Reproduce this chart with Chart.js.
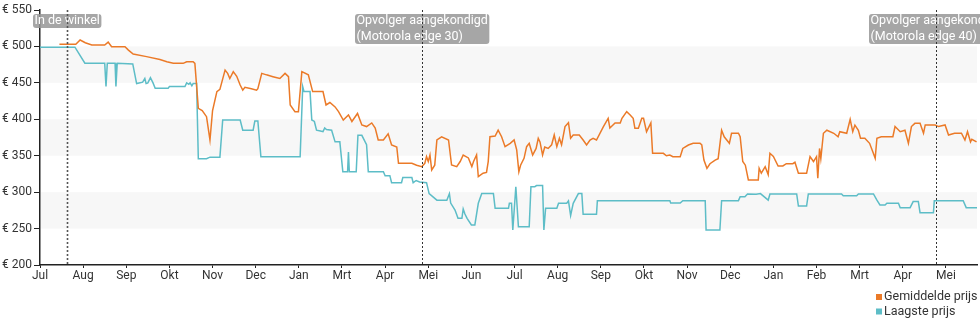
<!DOCTYPE html>
<html>
<head>
<meta charset="utf-8">
<script src="https://cdn.jsdelivr.net/npm/chart.js@4.4.1/dist/chart.umd.min.js"></script>
<style>
  html, body { margin: 0; padding: 0; background: #fff; }
  #wrap { width: 980px; height: 325px; position: relative; }
</style>
</head>
<body>
<div id="wrap"><canvas id="prijs"></canvas></div>
<script>
// x = months since start (0 = Jul), y = price in euro
var monthLabels = ['Jul','Aug','Sep','Okt','Nov','Dec','Jan','Mrt','Apr','Mei','Jun','Jul','Aug','Sep','Okt','Nov','Dec','Jan','Feb','Mrt','Apr','Mei'];
var yTicks = [200, 250, 300, 350, 400, 450, 500, 550];

var eventMonths = [0.626, 8.848, 20.77];
var eventLabels = [['In de winkel'], ['Opvolger aangekondigd', '(Motorola edge 30)'], ['Opvolger aangekondigd', '(Motorola edge 40)']];

var avgX = [0.45,0.83,0.93,1.05,1.2,1.5,1.58,1.66,1.97,2.05,2.16,2.47,2.78,2.94,3.09,3.32,3.4,3.55,3.59,3.67,3.76,3.86,3.94,4.0,4.1,4.17,4.29,4.35,4.4,4.48,4.56,4.64,4.7,4.75,4.9,5.02,5.05,5.14,5.25,5.4,5.56,5.68,5.76,5.8,5.91,5.99,6.07,6.22,6.32,6.56,6.63,6.72,6.84,6.92,7.03,7.15,7.23,7.36,7.46,7.57,7.69,7.77,7.84,7.96,8.07,8.15,8.27,8.31,8.62,8.73,8.85,8.92,8.96,9.0,9.04,9.08,9.15,9.2,9.31,9.47,9.54,9.66,9.74,9.81,9.93,10.01,10.05,10.12,10.16,10.27,10.35,10.39,10.43,10.55,10.62,10.7,10.78,10.9,10.99,11.05,11.1,11.14,11.22,11.28,11.34,11.42,11.5,11.55,11.59,11.65,11.7,11.78,11.86,11.92,11.98,12.04,12.09,12.17,12.25,12.3,12.36,12.5,12.59,12.67,12.75,12.82,12.9,13.06,13.17,13.21,13.33,13.45,13.49,13.6,13.68,13.75,13.79,13.87,13.95,13.99,14.06,14.16,14.2,14.45,14.52,14.6,14.67,14.84,14.9,15.03,15.14,15.3,15.34,15.39,15.46,15.53,15.65,15.72,15.8,15.86,15.98,16.03,16.19,16.23,16.29,16.35,16.42,16.65,16.67,16.72,16.81,16.88,16.92,17.0,17.11,17.22,17.3,17.45,17.5,17.58,17.77,17.85,17.93,18.0,18.03,18.07,18.1,18.16,18.24,18.4,18.5,18.54,18.7,18.78,18.84,18.89,18.97,19.02,19.12,19.23,19.3,19.36,19.4,19.5,19.77,19.82,19.94,20.05,20.13,20.2,20.28,20.4,20.48,20.52,20.75,20.83,20.98,21.06,21.2,21.36,21.44,21.5,21.57,21.6,21.71];
var avgY = [503,503,508.8,505,502,502,506,499.6,499.6,495,489.6,486,482,479,476.8,476.8,479,479,476.8,415,412,403.6,371.6,412,438,441,467.6,463,456,465.4,459,447,440,444,442,440,442,463,461,458.5,456,463,458.5,419.6,410.5,410.5,465.4,461,438,438,419.6,423,417,410.5,399,406,397,408,392.2,390,395,388,371.6,371.6,380,364.7,362,339.6,339.6,337,335,339.6,348.7,342,351,330.4,337,371.6,376,371.6,337.3,335,342,351,347,335,342,351,321.2,326,327,342,376,377,385,376,362.4,367,371.6,358,328,337,346.4,362.4,367,351,360,374,369,351,362,360,365,378.4,362.4,374,365,390,395.4,374,378.4,378.4,371.6,364.7,371.6,374,371.6,390,401.3,388,395,395,401.3,410.5,406,401.3,387.6,387.6,401.3,401.3,383,395,353.3,353.3,350,351,348.7,348.7,360,364.7,367,367,365,344,332.7,339,344,346,385,376,367,380.8,380.8,376,342,337,316.7,316.7,332.7,326,335,324,353.3,349,335.9,335.9,339,339,341,325.8,325.8,348.7,342,348.7,319,360,346,380.8,385,380.8,376,383,380.8,400,383,392,385,374,374,367,356,346.4,374,376,376,390,383,385,367,390,394.4,394.4,380.8,392.2,392.2,390,392.2,378.4,380.8,380.8,371.6,383,369,372.6,369];

var lowX = [0,0.81,1.04,1.5,1.53,1.56,1.74,1.76,1.79,2.15,2.24,2.38,2.43,2.46,2.5,2.56,2.62,2.67,2.97,3.0,3.36,3.4,3.45,3.48,3.52,3.55,3.63,3.67,3.86,3.94,4.17,4.235,4.64,4.7,4.94,4.98,5.05,5.12,6.03,6.09,6.12,6.26,6.3,6.36,6.41,6.5,6.56,6.6,6.64,6.76,6.84,6.95,7.02,7.13,7.15,7.17,7.33,7.37,7.46,7.57,7.61,7.96,8.0,8.11,8.15,8.38,8.41,8.62,8.65,8.72,8.8,8.96,9.02,9.2,9.43,9.49,9.52,9.62,9.69,9.78,9.81,9.85,9.9,10.0,10.08,10.16,10.24,10.51,10.55,10.86,10.88,10.93,10.96,11.03,11.09,11.34,11.38,11.47,11.51,11.65,11.68,11.72,11.98,12.02,12.21,12.25,12.3,12.36,12.48,12.56,12.59,12.9,12.92,14.6,14.62,14.84,14.9,15.42,15.44,15.76,15.8,16.19,16.23,16.34,16.4,16.6,16.7,16.88,16.92,17.54,17.58,17.77,17.81,18.58,18.62,18.93,18.97,19.32,19.4,19.47,19.59,19.63,19.9,19.94,20.17,20.24,20.36,20.4,20.71,20.73,21.4,21.47,21.72];
var lowY = [499,499,477,477,445,477,477,445,477,476,449,451,456,449,450,457,450,442.5,442.5,445,445,450,448,450,446,449,449,346,346,348,348,399,399,385,385,397.6,397.6,348.7,348.7,444.8,438,438,399,397,385,384,383,388,386,385,369,369,328,328,355,328,328,378,378,365,328,328,322.6,322.6,313,313,320,320,313,316,314,313,298,289,289,298,285,275.5,264,264,277,270,264,255,255,284.7,298,298,277.8,277.8,284.7,284.7,248,307.5,252.6,252.6,307.5,307.5,309,309,248,277.8,277.8,284.7,284.7,288,268,284.7,298,298,269.6,269.6,288.3,288.3,285,285,288.3,288.3,248,248,288.3,288.3,293.8,293.8,297.5,297,298,289,297.5,297.5,281,281,297.5,297.5,295,295,297.5,297.5,289,282.4,282.4,284.7,284.7,278.7,278.7,287,287,271.8,271.8,288.3,288.3,278.7,278.7];

var avgColor = '#eb7a28';
var lowColor = '#5dbdc7';

function toPoints(xs, ys) {
  return xs.map(function(x, i) { return {x: x, y: ys[i]}; });
}

// grey bands, event lines, labels and the legend
var extras = {
  id: 'extras',
  beforeDatasetsDraw: function(chart) {
    var ctx = chart.ctx, a = chart.chartArea, y = chart.scales.y;
    ctx.save();
    ctx.fillStyle = '#f7f7f7';
    for (var v = 250; v < 550; v += 100) {
      var t = y.getPixelForValue(v + 50), b = y.getPixelForValue(v);
      ctx.fillRect(a.left + 1, t, a.right - a.left - 1, b - t);
    }
    ctx.restore();
  },
  afterDraw: function(chart) {
    var ctx = chart.ctx, a = chart.chartArea, x = chart.scales.x;
    ctx.save();
    ctx.font = '12.5px Roboto';
    ctx.textBaseline = 'middle';
    ctx.textAlign = 'left';
    eventMonths.forEach(function(m, i) {
      var px = Math.round(x.getPixelForValue(m)) + 0.5;
      var lines = eventLabels[i];
      var w = 0;
      lines.forEach(function(l) { w = Math.max(w, ctx.measureText(l).width); });
      w += 3;
      var h = lines.length * 16 - 2;
      var bx = Math.round(px - w / 2);
      ctx.fillStyle = 'rgba(150,150,150,0.85)';
      ctx.beginPath();
      ctx.roundRect(bx, 14, w, h, 3);
      ctx.fill();
      ctx.fillStyle = '#fff';
      lines.forEach(function(l, j) { ctx.fillText(l, bx + 1.5, 21 + j * 16); });
      ctx.strokeStyle = i == 0 ? '#555' : '#333';
      ctx.lineWidth = i == 0 ? 1.6 : 1;
      ctx.setLineDash([2, 2]);
      ctx.beginPath();
      ctx.moveTo(px, a.top);
      ctx.lineTo(px, a.bottom);
      ctx.stroke();
      ctx.setLineDash([]);
    });
    // legend
    ctx.font = '12.5px Roboto';
    chart.data.datasets.forEach(function(ds, i) {
      var ly = 297 + i * 14.5;
      ctx.fillStyle = ds.borderColor;
      ctx.fillRect(876, ly - 3, 6, 6);
      ctx.fillStyle = '#333';
      ctx.fillText(ds.label, 884, ly);
    });
    ctx.restore();
  }
};

new Chart(document.getElementById('prijs'), {
  type: 'line',
  data: {
    datasets: [{
      label: 'Gemiddelde prijs',
      data: toPoints(avgX, avgY),
      borderColor: avgColor,
      backgroundColor: avgColor,
      borderWidth: 1.5,
      pointRadius: 0,
      tension: 0
    }, {
      label: 'Laagste prijs',
      data: toPoints(lowX, lowY),
      borderColor: lowColor,
      backgroundColor: lowColor,
      borderWidth: 1.5,
      pointRadius: 0,
      tension: 0
    }]
  },
  options: {
    responsive: true,
    maintainAspectRatio: false,
    animation: false,
    layout: { padding: { top: 10, right: 3, left: 0, bottom: 0 } },
    plugins: {
      legend: { display: false },
      tooltip: { enabled: false }
    },
    scales: {
      x: {
        type: 'linear',
        min: 0,
        max: 21.72,
        afterFit: function(s) { s.height = 60; },
        border: { display: true, color: '#222', width: 1.5 },
        grid: { drawOnChartArea: false, drawTicks: true, tickLength: 3, color: '#222' },
        ticks: {
          stepSize: 1,
          includeBounds: false,
          autoSkip: false,
          maxRotation: 0,
          padding: 1,
          color: '#333',
          font: { family: 'Roboto', size: 12 },
          callback: function(v) { return Number.isInteger(v) ? monthLabels[v] : ''; }
        }
      },
      y: {
        min: 200,
        max: 550,
        afterFit: function(s) { s.width = 40; },
        afterBuildTicks: function(s) { s.ticks = yTicks.map(function(v) { return {value: v}; }); },
        border: { display: true, color: '#222', width: 1.5 },
        grid: { drawOnChartArea: false, drawTicks: true, tickLength: 6, color: '#222' },
        ticks: {
          padding: 2,
          color: '#333',
          font: { family: 'Roboto', size: 12 },
          callback: function(v) { return '€ ' + v; }
        }
      }
    }
  },
  plugins: [extras]
});
</script>
</body>
</html>
